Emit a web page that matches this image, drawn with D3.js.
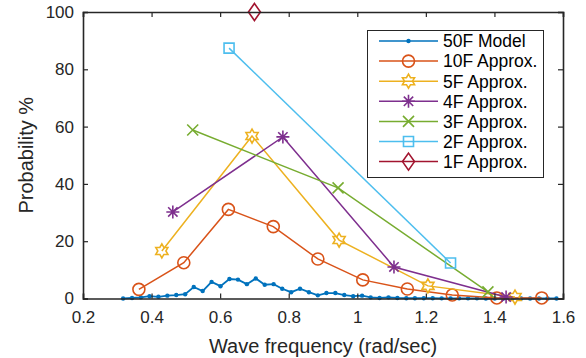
<!DOCTYPE html>
<html>
<head>
<meta charset="utf-8">
<script src="https://cdn.jsdelivr.net/npm/d3@7"></script>
<style>
  body { margin: 0; background: #fff; }
  svg { display: block; font-family: "Liberation Sans", Arial, Helvetica, sans-serif; }
</style>
</head>
<body>
<svg id="chart" width="586" height="358"></svg>
<script>
// 50 point model
const model50X = [0.317, 0.343, 0.369, 0.394, 0.420, 0.446, 0.472, 0.498, 0.523, 0.549,
    0.575, 0.601, 0.627, 0.652, 0.678, 0.704, 0.730, 0.756, 0.781, 0.807,
    0.833, 0.859, 0.885, 0.910, 0.936, 0.962, 0.988, 1.014, 1.039, 1.065,
    1.091, 1.117, 1.143, 1.168, 1.194, 1.220, 1.246, 1.272, 1.297, 1.323,
    1.349, 1.375, 1.401, 1.426, 1.452, 1.478, 1.504, 1.530, 1.555, 1.581];
const model50Y = [0.0, 0.2, 0.4, 0.8, 0.6, 1.0, 1.2, 1.5, 4.0, 2.6,
    5.8, 4.3, 6.8, 6.6, 5.0, 7.0, 4.8, 5.0, 3.4, 2.2,
    3.4, 2.2, 1.1, 1.9, 1.9, 1.2, 0.8, 1.0, 0.4, 0.2,
    0.4, 0.2, 0.1, 0.1, 0.1, 0.1, 0.05, 0.05, 0.05, 0.05,
    0.05, 0.0, 0.0, 0.0, 0.0, 0.0, 0.0, 0.0, 0.0, 0.0];

const approx10X = [0.363, 0.494, 0.624, 0.755, 0.885, 1.016, 1.146, 1.277, 1.407, 1.538];
const approx10Y = [3.2, 12.5, 31.1, 25.1, 13.8, 6.5, 3.3, 1.2, 0.2, 0.2];
const approx5X = [0.430, 0.693, 0.947, 1.206, 1.460];
const approx5Y = [16.6, 56.7, 20.4, 4.4, 0.5];
const approx4X = [0.462, 0.783, 1.107, 1.434];
const approx4Y = [30.2, 56.4, 11.0, 0.5];
const approx3X = [0.520, 0.944, 1.381];
const approx3Y = [58.8, 38.6, 2.3];
const approx2X = [0.626, 1.272];
const approx2Y = [87.4, 12.4];
const approx1X = [0.70];
const approx1Y = [100];

const seriesNames = ["50F Model", "10F Approx.", "5F Approx.", "4F Approx.", "3F Approx.", "2F Approx.", "1F Approx."];
const seriesColors = ["#0072BD", "#D95319", "#EDB120", "#7E2F8E", "#77AC30", "#4DBEEE", "#A2142F"];
const seriesMarkers = ["dot", "circle", "hexagram", "asterisk", "cross", "square", "diamond"];
const xTicks = [0.2, 0.4, 0.6, 0.8, 1, 1.2, 1.4, 1.6];
const yTicks = [0, 20, 40, 60, 80, 100];

const allX = [model50X, approx10X, approx5X, approx4X, approx3X, approx2X, approx1X];
const allY = [model50Y, approx10Y, approx5Y, approx4Y, approx3Y, approx2Y, approx1Y];

const series = seriesNames.map((name, i) => ({
    name: name,
    color: seriesColors[i],
    marker: seriesMarkers[i],
    points: allX[i].map((x, j) => ({ x: x, y: allY[i][j] }))
}));

const svg = d3.select("#chart");
const margin = { left: 83, right: 23, top: 12, bottom: 59.5 };
const W = 586, H = 358;

const x = d3.scaleLinear().domain([0.2, 1.6]).range([margin.left, W - margin.right]);
const y = d3.scaleLinear().domain([0, 100]).range([H - margin.bottom, margin.top]);

const axisColor = "#262626";

// marker path generator, centred on 0,0
function markerPath(type) {
    const p = d3.path();
    if (type === "circle") {
        p.arc(0, 0, 6, 0, 2 * Math.PI);
    } else if (type === "square") {
        p.rect(-5, -5, 10, 10);
    } else if (type === "diamond") {
        p.moveTo(0, -8.5); p.lineTo(6, 0); p.lineTo(0, 8.5); p.lineTo(-6, 0); p.closePath();
    } else if (type === "cross") {
        p.moveTo(-5.5, -5.5); p.lineTo(5.5, 5.5);
        p.moveTo(-5.5, 5.5); p.lineTo(5.5, -5.5);
    } else if (type === "asterisk") {
        const r = 6.5, d = r * 0.72;
        p.moveTo(-r, 0); p.lineTo(r, 0);
        p.moveTo(0, -r); p.lineTo(0, r);
        p.moveTo(-d, -d); p.lineTo(d, d);
        p.moveTo(-d, d); p.lineTo(d, -d);
    } else if (type === "hexagram") {
        const ro = 7, ri = ro / Math.sqrt(3);
        for (let k = 0; k < 12; k++) {
            const a = -Math.PI / 2 + k * Math.PI / 6;
            const r = k % 2 === 0 ? ro : ri;
            if (k === 0) p.moveTo(r * Math.cos(a), r * Math.sin(a));
            else p.lineTo(r * Math.cos(a), r * Math.sin(a));
        }
        p.closePath();
    }
    return p.toString();
}

function drawMarker(g, type, color, cx, cy) {
    if (type === "dot") {
        g.append("circle").attr("cx", cx).attr("cy", cy).attr("r", 2.2).attr("fill", color);
    } else {
        g.append("path")
            .attr("d", markerPath(type))
            .attr("transform", `translate(${cx},${cy})`)
            .attr("fill", "none")
            .attr("stroke", color)
            .attr("stroke-width", 1.6);
    }
}

// lines + markers
const line = d3.line().x(d => x(d.x)).y(d => y(d.y));
const plot = svg.append("g");
series.forEach(s => {
    const g = plot.append("g");
    g.append("path")
        .datum(s.points)
        .attr("d", line)
        .attr("fill", "none")
        .attr("stroke", s.color)
        .attr("stroke-width", s.marker === "dot" ? 1.8 : 1.5);
    s.points.forEach(d => drawMarker(g, s.marker, s.color, x(d.x), y(d.y)));
});

// axes (MATLAB style box, inward ticks)
const fontTick = "17px";
svg.append("g")
    .attr("transform", `translate(0,${y(0)})`)
    .call(d3.axisBottom(x).tickValues(xTicks).tickSize(-5).tickPadding(12).tickFormat(d3.format("")))
    .call(g => g.select(".domain").attr("stroke", axisColor).attr("stroke-width", 1.6))
    .call(g => g.selectAll(".tick line").attr("stroke", axisColor).attr("stroke-width", 1.2))
    .call(g => g.selectAll(".tick text").attr("fill", axisColor).style("font-size", fontTick).attr("font-family", null));

svg.append("g")
    .attr("transform", `translate(0,${y(100)})`)
    .call(d3.axisTop(x).tickValues(xTicks).tickSize(-5).tickFormat(""))
    .call(g => g.select(".domain").attr("stroke", axisColor).attr("stroke-width", 1.6))
    .call(g => g.selectAll(".tick line").attr("stroke", axisColor).attr("stroke-width", 1.2));

svg.append("g")
    .attr("transform", `translate(${x(0.2)},0)`)
    .call(d3.axisLeft(y).tickValues(yTicks).tickSize(-5).tickPadding(9))
    .call(g => g.select(".domain").attr("stroke", axisColor).attr("stroke-width", 1.6))
    .call(g => g.selectAll(".tick line").attr("stroke", axisColor).attr("stroke-width", 1.2))
    .call(g => g.selectAll(".tick text").attr("fill", axisColor).style("font-size", fontTick).attr("font-family", null));

svg.append("g")
    .attr("transform", `translate(${x(1.6)},0)`)
    .call(d3.axisRight(y).tickValues(yTicks).tickSize(-5).tickFormat(""))
    .call(g => g.select(".domain").attr("stroke", axisColor).attr("stroke-width", 1.6))
    .call(g => g.selectAll(".tick line").attr("stroke", axisColor).attr("stroke-width", 1.2));

// axis titles
svg.append("text")
    .attr("x", (x(0.2) + x(1.6)) / 2)
    .attr("y", 353)
    .attr("text-anchor", "middle")
    .attr("fill", axisColor)
    .style("font-size", "20px")
    .text("Wave frequency (rad/sec)");

svg.append("text")
    .attr("transform", `translate(33,${(y(0) + y(100)) / 2}) rotate(-90)`)
    .attr("text-anchor", "middle")
    .attr("fill", axisColor)
    .style("font-size", "20px")
    .text("Probability %");

// legend
const legend = svg.append("g");
legend.append("rect")
    .attr("x", 367.5).attr("y", 30.5)
    .attr("width", 176).attr("height", 147)
    .attr("fill", "#fff")
    .attr("stroke", axisColor)
    .attr("stroke-width", 1);

series.forEach((s, i) => {
    const ly = 41 + i * 20.1;
    const g = legend.append("g");
    g.append("line")
        .attr("x1", 379).attr("x2", 438)
        .attr("y1", ly).attr("y2", ly)
        .attr("stroke", s.color)
        .attr("stroke-width", 1.5);
    drawMarker(g, s.marker, s.color, 408.5, ly);
    g.append("text")
        .attr("x", 443)
        .attr("y", ly)
        .attr("dy", "0.36em")
        .attr("fill", "#000")
        .style("font-size", "17.5px")
        .text(s.name);
});
</script>
</body>
</html>
